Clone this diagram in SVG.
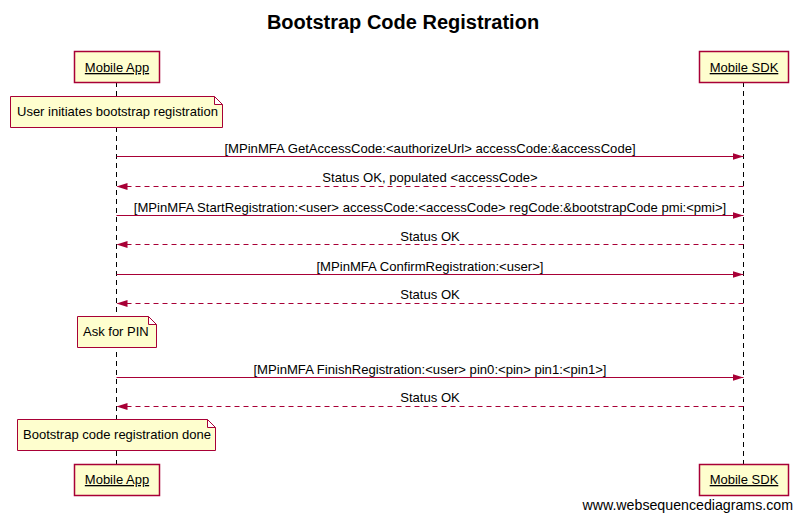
<svg xmlns="http://www.w3.org/2000/svg" width="802" height="519" viewBox="0 0 802 519">
  <style>
    text { font-family: "Liberation Sans", Arial, sans-serif; font-size: 13px; fill: #000; }
    .title { font-size: 20px; font-weight: bold; }
    .actor rect { fill: #FEFECE; stroke: #A80036; stroke-width: 1.5; }
    .actor text { text-decoration: underline; text-anchor: middle; }
    .note path { fill: #FEFECE; stroke: #A80036; stroke-width: 1; }
    .life { stroke: #000; stroke-width: 1; stroke-dasharray: 5,4; }
    .msg { stroke: #A80036; stroke-width: 1; fill: none; }
    .ret { stroke-dasharray: 5,4; }
    .lbl { text-anchor: middle; font-size: 13.1px; }
  </style>
  <defs>
    <marker id="head" markerWidth="12" markerHeight="8" refX="11" refY="4" orient="auto" markerUnits="userSpaceOnUse">
      <path d="M0,0.5 L11,4 L0,7.5 Z" fill="#A80036"/>
    </marker>
  </defs>

  <rect width="802" height="519" fill="#fff"/>
  <text class="title" x="403" y="29" text-anchor="middle">Bootstrap Code Registration</text>

  <!-- lifelines -->
  <g id="lifelines">
    <line class="life" x1="116.5" y1="82" x2="116.5" y2="464"/>
    <line class="life" x1="743.5" y1="82" x2="743.5" y2="464"/>
  </g>

  <g id="app-top" class="actor">
    <rect x="74.5" y="51.5" width="85" height="31"/>
    <text x="117" y="72">Mobile App</text>
  </g>
  <g id="sdk-top" class="actor">
    <rect x="699.5" y="51.5" width="89" height="31"/>
    <text x="744" y="72">Mobile SDK</text>
  </g>

  <g id="note-start" class="note">
    <path d="M10.5,96.5 H214.5 L222.5,104.5 V127.5 H10.5 Z M214.5,96.5 V104.5 H222.5"/>
    <text x="17" y="116">User initiates bootstrap registration</text>
  </g>

  <g id="note-pin" class="note">
    <path d="M77.5,316.5 H148.5 L156.5,324.5 V347.5 H77.5 Z M148.5,316.5 V324.5 H156.5"/>
    <text x="83" y="336">Ask for PIN</text>
  </g>

  <g id="note-done" class="note">
    <path d="M17.5,419.5 H207.5 L215.5,427.5 V450.5 H17.5 Z M207.5,419.5 V427.5 H215.5"/>
    <text x="23" y="439">Bootstrap code registration done</text>
  </g>

  <!-- messages -->
  <g id="connectors">
    <line class="msg" x1="116.5" y1="156.5" x2="743.5" y2="156.5" marker-end="url(#head)"/>
    <line class="msg ret" x1="743.5" y1="186.5" x2="116.5" y2="186.5" marker-end="url(#head)"/>
    <line class="msg" x1="116.5" y1="215.5" x2="743.5" y2="215.5" marker-end="url(#head)"/>
    <line class="msg ret" x1="743.5" y1="244.5" x2="116.5" y2="244.5" marker-end="url(#head)"/>
    <line class="msg" x1="116.5" y1="274.5" x2="743.5" y2="274.5" marker-end="url(#head)"/>
    <line class="msg ret" x1="743.5" y1="303.5" x2="116.5" y2="303.5" marker-end="url(#head)"/>
    <line class="msg" x1="116.5" y1="377.5" x2="743.5" y2="377.5" marker-end="url(#head)"/>
    <line class="msg ret" x1="743.5" y1="406.5" x2="116.5" y2="406.5" marker-end="url(#head)"/>
  </g>

  <g id="labels">
    <text class="lbl" x="430" y="153">[MPinMFA GetAccessCode:&lt;authorizeUrl&gt; accessCode:&amp;accessCode]</text>
    <text class="lbl" x="430" y="182">Status OK, populated &lt;accessCode&gt;</text>
    <text class="lbl" x="430" y="212">[MPinMFA StartRegistration:&lt;user&gt; accessCode:&lt;accessCode&gt; regCode:&amp;bootstrapCode pmi:&lt;pmi&gt;]</text>
    <text class="lbl" x="430" y="241">Status OK</text>
    <text class="lbl" x="430" y="271">[MPinMFA ConfirmRegistration:&lt;user&gt;]</text>
    <text class="lbl" x="430" y="299">Status OK</text>
    <text class="lbl" x="430" y="374">[MPinMFA FinishRegistration:&lt;user&gt; pin0:&lt;pin&gt; pin1:&lt;pin1&gt;]</text>
    <text class="lbl" x="430" y="402">Status OK</text>
  </g>

  <g id="app-bottom" class="actor">
    <rect x="74.5" y="464.5" width="85" height="31"/>
    <text x="117" y="484">Mobile App</text>
  </g>
  <g id="sdk-bottom" class="actor">
    <rect x="699.5" y="464.5" width="89" height="31"/>
    <text x="744" y="484">Mobile SDK</text>
  </g>

  <text x="793" y="510" text-anchor="end" style="font-size:14.2px">www.websequencediagrams.com</text>
</svg>
